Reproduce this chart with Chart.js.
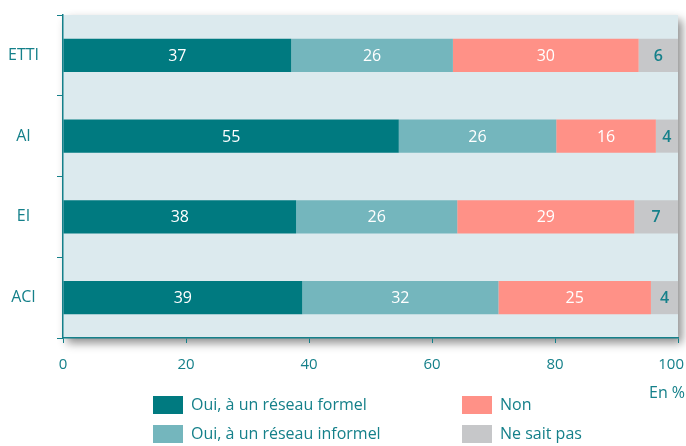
<!DOCTYPE html>
<html>
<head>
<meta charset="utf-8">
<script src="https://cdn.jsdelivr.net/npm/chart.js@4"></script>
<style>
    body { margin: 0; background: #fff; font-family: "Open Sans", sans-serif; }
    #wrap { position: relative; width: 686px; height: 446px; }
    .leg { position: absolute; font-size: 16px; color: #15808a; white-space: nowrap; }
    .leg span { position: absolute; left: 0; top: 0; width: 30px; height: 18px; }
    .leg b { font-weight: normal; position: absolute; left: 38px; top: -3px; }
    #unit { position: absolute; left: 649px; top: 381px; font-size: 16px; color: #15808a; }
</style>
</head>
<body>
<div id="wrap">
    <canvas id="graphique" width="686" height="446"></canvas>
    <div id="unit">En %</div>
    <div id="legende"></div>
</div>
<script>
// structures
const categories = ['ETTI', 'AI', 'EI', 'ACI'];

// longueurs (en %), étiquettes arrondies
const formel = [37.1, 54.6, 37.9, 38.9];
const informel = [26.3, 25.6, 26.2, 31.9];
const non = [30.2, 16.2, 28.8, 24.8];
const nsp = [6.4, 3.6, 7.1, 4.4];

const ticksX = [0, 20, 40, 60, 80, 100];

const series = [
    { label: 'Oui, à un réseau formel', data: formel, color: '#007a80', text: '#ffffff' },
    { label: 'Oui, à un réseau informel', data: informel, color: '#74b6bd', text: '#ffffff' },
    { label: 'Non', data: non, color: '#ff9187', text: '#ffffff' },
    { label: 'Ne sait pas', data: nsp, color: '#c6c7c9', text: '#15808a' }
];

const teal = '#15808a';

// fond du graphique avec ombre
const fondPlugin = {
    id: 'fond',
    beforeDraw(chart) {
        const a = chart.chartArea;
        const ctx = chart.ctx;
        ctx.save();
        ctx.shadowColor = 'rgba(0,0,0,0.45)';
        ctx.shadowBlur = 9;
        ctx.shadowOffsetX = 4;
        ctx.shadowOffsetY = 5;
        ctx.fillStyle = '#dceaee';
        ctx.fillRect(a.left, a.top, a.right - a.left, a.bottom - a.top);
        ctx.restore();

        // le dernier libellé (100) reste dans le cadre
        const items = chart.scales.x.getLabelItems();
        const dernier = items[items.length - 1];
        if (dernier) {
            dernier.options.textAlign = 'right';
            dernier.options.translation[0] = chart.width - 2;
        }
    }
};

// valeurs au centre des barres
const valeursPlugin = {
    id: 'valeurs',
    afterDatasetsDraw(chart) {
        const ctx = chart.ctx;
        ctx.save();
        ctx.textAlign = 'center';
        ctx.textBaseline = 'middle';
        chart.data.datasets.forEach((ds, i) => {
            const meta = chart.getDatasetMeta(i);
            meta.data.forEach((bar, j) => {
                ctx.fillStyle = series[i].text;
                ctx.font = (series[i].text === teal ? '600 ' : '') + '16px "Open Sans"';
                ctx.fillText(Math.round(ds.data[j]), (bar.x + bar.base) / 2, bar.y + 1);
            });
        });
        ctx.restore();
    }
};

new Chart(document.getElementById('graphique'), {
    type: 'bar',
    data: {
        labels: categories,
        datasets: series.map(s => ({
            label: s.label,
            data: s.data,
            backgroundColor: s.color,
            borderWidth: 0,
            barPercentage: 0.41,
            categoryPercentage: 1
        }))
    },
    options: {
        indexAxis: 'y',
        responsive: false,
        animation: false,
        layout: { padding: { top: 15, right: 8, bottom: 68, left: 0 } },
        plugins: {
            legend: { display: false },
            tooltip: { enabled: false }
        },
        scales: {
            x: {
                stacked: true,
                min: 0,
                max: 100,
                afterBuildTicks: s => { s.ticks = ticksX.map(v => ({ value: v })); },
                afterFit: s => { s.height = 40; s.paddingLeft = 0; s.paddingRight = 0; },
                grid: { drawOnChartArea: false, color: teal, tickLength: 5, lineWidth: 1 },
                border: { color: teal, width: 1.5 },
                ticks: { color: teal, font: { family: 'Open Sans', size: 15 }, padding: 13, maxRotation: 0 }
            },
            y: {
                stacked: true,
                afterFit: s => { s.width = 63; s.paddingTop = 0; s.paddingBottom = 0; },
                grid: { drawOnChartArea: false, color: teal, tickLength: 6, offset: true },
                border: { color: teal, width: 1.5 },
                ticks: { color: teal, font: { family: 'Open Sans', size: 16 }, padding: 18, crossAlign: 'center' }
            }
        }
    },
    plugins: [fondPlugin, valeursPlugin]
});

// légende en deux colonnes
const positions = [[153, 396], [153, 425], [462, 396], [462, 425]];
const legende = document.getElementById('legende');
series.forEach((s, i) => {
    const d = document.createElement('div');
    d.className = 'leg';
    d.style.left = positions[i][0] + 'px';
    d.style.top = positions[i][1] + 'px';
    d.innerHTML = '<span style="background:' + s.color + '"></span><b>' + s.label + '</b>';
    legende.appendChild(d);
});
</script>
</body>
</html>
